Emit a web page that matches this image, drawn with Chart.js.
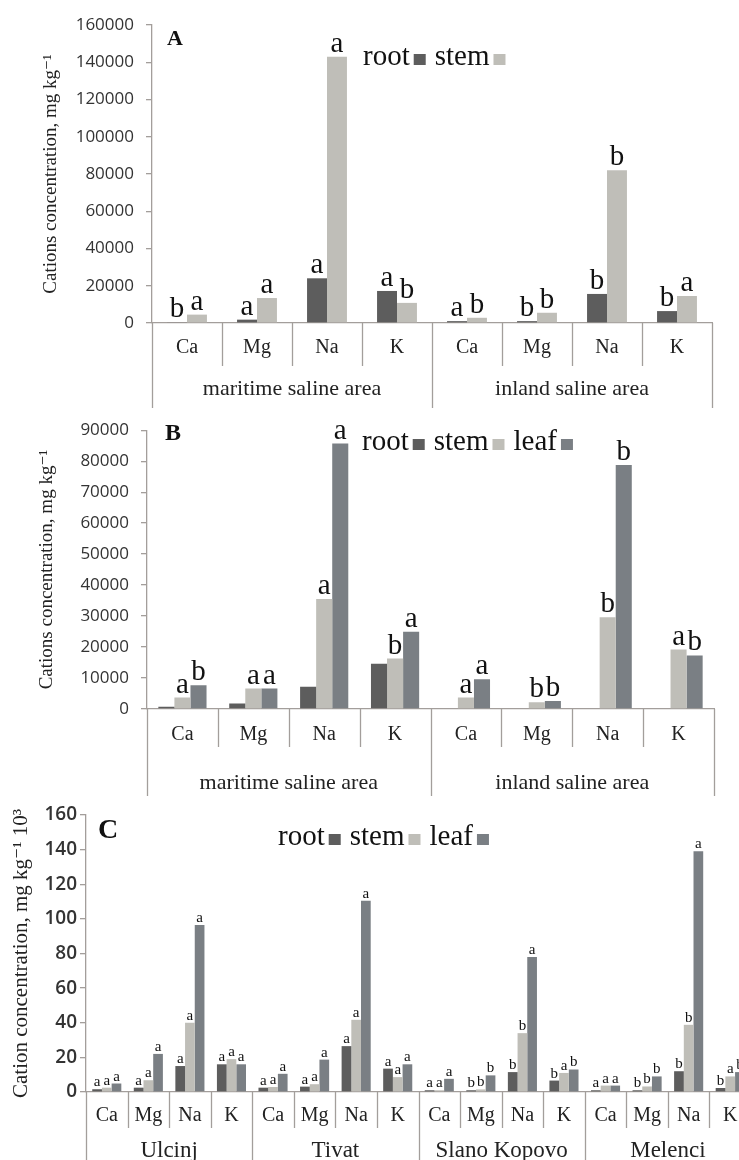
<!DOCTYPE html>
<html>
<head>
<meta charset="utf-8">
<script src="https://cdn.jsdelivr.net/npm/chart.js@4.4.1/dist/chart.umd.min.js"></script>
<style>
  html, body { margin: 0; padding: 0; background: #fff; overflow: hidden; width: 739px; height: 1160px; }
  canvas { position: absolute; left: 0; }
</style>
</head>
<body>
<canvas id="chartA" width="739" height="408" style="top:0"></canvas>
<canvas id="chartB" width="739" height="388" style="top:408px"></canvas>
<canvas id="chartC" width="760" height="364" style="top:796px"></canvas>
<script>
// Categories
const cations = ["Ca", "Mg", "Na", "K"];
const areaGroups = ["maritime saline area", "inland saline area"];
const siteGroups = ["Ulcinj", "Tivat", "Slano Kopovo", "Melenci"];

// Panel A (mg/kg)
const aRoot = [300, 1800, 24000, 17200, 1000, 1000, 15600, 6400];
const aStem = [4500, 13400, 143000, 10800, 2800, 5500, 82000, 14500];
const aRootSig = ["b", "a", "a", "a", "a", "b", "b", "b"];
const aStemSig = ["a", "a", "a", "b", "b", "b", "b", "a"];

// Panel B (mg/kg)
const bRoot = [700, 1800, 7200, 14600, 0, 0, 0, 0];
const bStem = [3700, 6600, 35500, 16300, 3700, 2200, 29600, 19200];
const bLeaf = [7700, 6600, 85700, 24900, 9600, 2600, 78800, 17300];
const bRootSig = ["", "", "", "", "", "", "", ""];
const bStemSig = ["a", "a", "a", "b", "a", "b", "b", "a"];
const bLeafSig = ["b", "a", "a", "a", "a", "b", "b", "b"];

// Panel C (mg/kg x 10^3)
const cRoot = [1.6, 2.5, 15, 16, 2.5, 3.1, 26.5, 13.5, 1, 1, 11.5, 6.6, 1, 1, 12, 2.3];
const cStem = [2.5, 6.8, 40, 19, 2.9, 4.5, 41.7, 8.6, 1, 1.5, 34, 11, 3.7, 3.2, 38.8, 9];
const cLeaf = [4.9, 22, 96.5, 16, 10.5, 18.7, 110.5, 16, 7.6, 9.6, 78, 13, 3.7, 9, 139, 11.5];
const cRootSig = ["a", "a", "a", "a", "a", "a", "a", "a", "a", "b", "b", "b", "a", "b", "b", "b"];
const cStemSig = ["a", "a", "a", "a", "a", "a", "a", "a", "a", "b", "b", "a", "a", "b", "b", "a"];
const cLeafSig = ["a", "a", "a", "a", "a", "a", "a", "a", "a", "b", "a", "b", "a", "b", "a", "b"];

const rootColor = "#5d5d5d";
const stemColor = "#bfbeb8";
const leafColor = "#7a7f84";
const axisColor = "#a39e9b";
const serif = '"Liberation Serif", "DejaVu Serif", serif';
const sans = '"Open Sans", "Liberation Sans", sans-serif';

// draws category boxes, group labels, significance letters, legend and panel letter
const decorPlugin = {
  id: "decor",
  afterDraw(chart, args, o) {
    const ctx = chart.ctx;
    const xs = chart.scales.x;
    const area = chart.chartArea;
    const n = chart.data.labels.length;
    const step = xs.getPixelForValue(1) - xs.getPixelForValue(0);
    const first = xs.getPixelForValue(0) - step / 2;
    const per = n / o.groups.length;
    ctx.save();
    ctx.strokeStyle = axisColor;
    ctx.lineWidth = 1.3;
    for (let i = 0; i <= n; i++) {
      const px = Math.round(first + i * step) + 0.5;
      const end = i % per === 0 ? chart.height : area.bottom + o.innerDrop;
      ctx.beginPath();
      ctx.moveTo(px, area.bottom);
      ctx.lineTo(px, end);
      ctx.stroke();
    }
    ctx.fillStyle = "#222";
    ctx.textAlign = "center";
    ctx.textBaseline = "middle";
    ctx.font = o.groupSize + "px " + serif;
    o.groups.forEach((g, k) => {
      ctx.fillText(g, first + (k + 0.5) * per * step, area.bottom + o.groupDrop);
    });

    // significance letters
    ctx.textBaseline = "alphabetic";
    ctx.font = o.sigSize + "px " + serif;
    ctx.fillStyle = "#111";
    chart.data.datasets.forEach((ds, i) => {
      chart.getDatasetMeta(i).data.forEach((bar, j) => {
        const t = ds.sig[j];
        if (t) ctx.fillText(t, bar.x, bar.y - o.sigGap);
      });
    });

    // legend: text followed by a small square
    ctx.textAlign = "left";
    ctx.font = o.legendSize + "px " + serif;
    let cx = o.legendX;
    chart.data.datasets.forEach((ds) => {
      ctx.fillStyle = "#111";
      ctx.fillText(ds.label, cx, o.legendY);
      cx += ctx.measureText(ds.label).width + 4;
      ctx.fillStyle = ds.backgroundColor;
      ctx.fillRect(cx, o.legendY - 11, 12, 11);
      cx += 12 + 9;
    });

    ctx.fillStyle = "#111";
    ctx.font = "bold " + o.panelSize + "px " + serif;
    ctx.fillText(o.panel, o.panelX, o.panelY);
    ctx.restore();
  },
};

function makeChart(id, cfg) {
  return new Chart(document.getElementById(id), {
    type: "bar",
    data: { labels: cfg.labels, datasets: cfg.datasets },
    options: {
      responsive: false,
      animation: false,
      devicePixelRatio: 1,
      layout: { padding: { left: 0, top: cfg.top, right: cfg.right, bottom: 0 } },
      datasets: { bar: { barPercentage: 1, categoryPercentage: cfg.catPct, borderWidth: 0 } },
      plugins: { legend: { display: false }, tooltip: { enabled: false }, decor: cfg.decor },
      scales: {
        x: {
          grid: { display: false, drawTicks: false },
          border: { display: true, color: axisColor, width: 1.3 },
          ticks: {
            autoSkip: false,
            maxRotation: 0,
            color: "#222",
            padding: cfg.xDrop - cfg.xSize * 0.6,
            font: { family: serif, size: cfg.xSize },
          },
          afterFit(scale) { scale.height = cfg.xHeight; },
        },
        y: {
          min: 0,
          max: cfg.yMax,
          ticks: {
            stepSize: cfg.yStep,
            color: "#333",
            padding: cfg.yPad,
            font: { family: sans, size: cfg.ySize, weight: cfg.yWeight },
            callback: (v) => String(v),
          },
          grid: { display: true, drawOnChartArea: false, drawTicks: true, tickLength: 6, color: axisColor, lineWidth: 1.3 },
          border: { display: true, color: axisColor, width: 1.3 },
          title: {
            display: true,
            text: cfg.yTitle,
            color: "#222",
            padding: { top: cfg.titlePad, bottom: 0 },
            font: { family: serif, size: cfg.titleSize },
          },
          afterFit(scale) { scale.width = cfg.yWidth; },
        },
      },
    },
    plugins: [decorPlugin],
  });
}

const labelsAB = areaGroups.flatMap(() => cations);
const labelsC = siteGroups.flatMap(() => cations);

makeChart("chartA", {
  labels: labelsAB,
  datasets: [
    { label: "root", data: aRoot, sig: aRootSig, backgroundColor: rootColor },
    { label: "stem", data: aStem, sig: aStemSig, backgroundColor: stemColor },
  ],
  top: 25, right: 27, catPct: 0.57,
  xHeight: 85, xDrop: 25, xSize: 20,
  yMax: 160000, yStep: 20000, yPad: 12, ySize: 17, yWeight: "normal",
  yTitle: "Cations concentration, mg kg\u207B\u00B9", titlePad: 40, titleSize: 19, yWidth: 152,
  decor: {
    groups: areaGroups, innerDrop: 43, groupDrop: 66, groupSize: 22,
    sigSize: 29, sigGap: 5,
    legendX: 363, legendY: 65, legendSize: 29,
    panel: "A", panelX: 167, panelY: 45, panelSize: 22,
  },
});

makeChart("chartB", {
  labels: labelsAB,
  datasets: [
    { label: "root", data: bRoot, sig: bRootSig, backgroundColor: rootColor },
    { label: "stem", data: bStem, sig: bStemSig, backgroundColor: stemColor },
    { label: "leaf", data: bLeaf, sig: bLeafSig, backgroundColor: leafColor },
  ],
  top: 15, right: 25, catPct: 0.68,
  xHeight: 87, xDrop: 26, xSize: 20,
  yMax: 90000, yStep: 10000, yPad: 12, ySize: 17, yWeight: "normal",
  yTitle: "Cations concentration, mg kg\u207B\u00B9", titlePad: 36, titleSize: 19, yWidth: 147,
  decor: {
    groups: areaGroups, innerDrop: 38, groupDrop: 74, groupSize: 22,
    sigSize: 29, sigGap: 5,
    legendX: 362, legendY: 42, legendSize: 29,
    panel: "B", panelX: 165, panelY: 32, panelSize: 24,
  },
});

makeChart("chartC", {
  labels: labelsC,
  datasets: [
    { label: "root", data: cRoot, sig: cRootSig, backgroundColor: rootColor },
    { label: "stem", data: cStem, sig: cStemSig, backgroundColor: stemColor },
    { label: "leaf", data: cLeaf, sig: cLeafSig, backgroundColor: leafColor },
  ],
  top: 19, right: 9, catPct: 0.7,
  xHeight: 68, xDrop: 24, xSize: 20,
  yMax: 160, yStep: 20, yPad: 3, ySize: 19, yWeight: "600",
  yTitle: "Cation concentration, mg kg\u207B\u00B9 10\u00B3", titlePad: 9, titleSize: 21, yWidth: 86,
  decor: {
    groups: siteGroups, innerDrop: 36, groupDrop: 59, groupSize: 23,
    sigSize: 15, sigGap: 3,
    legendX: 278, legendY: 49, legendSize: 29,
    panel: "C", panelX: 98, panelY: 42, panelSize: 28,
  },
});
</script>
</body>
</html>
